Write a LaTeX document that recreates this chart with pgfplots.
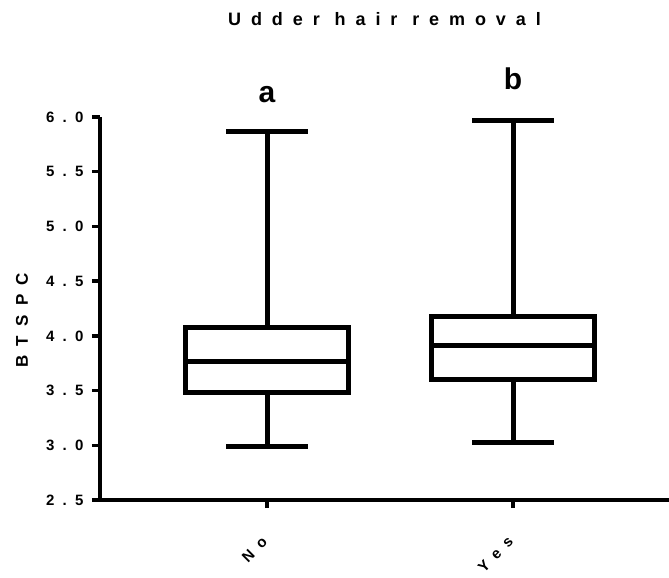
\documentclass[border=0pt]{standalone}
\usepackage{fontspec}
\setmainfont{Liberation Sans}
\newfontfamily\spaced[LetterSpace=55]{Liberation Sans}
\usepackage{pgfplots}
\pgfplotsset{compat=1.18}
\pgfplotsset{boxline/.style={black, solid, line width=5bp, line join=miter, mark=none}}

\begin{document}
\begin{tikzpicture}
\begin{axis}[
    name=ax,
    scale only axis,
    width=569bp, height=383bp,
    xmin=-0.679, xmax=1.634,
    ymin=2.5, ymax=6.0,
    clip=false,
    axis lines*=left,
    axis line style={line width=3.5bp},
    tick align=outside,
    major tick length=8bp,
    every tick/.style={black, line width=3.5bp},
    xtick={0,1},
    xticklabels={No,Yes},
    ytick={2.5,3.0,3.5,4.0,4.5,5.0,5.5,6.0},
    yticklabels={2.5,3.0,3.5,4.0,4.5,5.0,5.5,6.0},
    yticklabel style={font=\spaced\bfseries\fontsize{15bp}{17bp}\selectfont, xshift=-5bp},
    xticklabel style={font=\spaced\bfseries\fontsize{15bp}{17bp}\selectfont,
        xshift=0bp, yshift=-29bp, rotate=45, anchor=east},
    ylabel={BTSPC},
    ylabel style={font=\spaced\bfseries\fontsize{17bp}{19bp}\selectfont,
        at={(axis description cs:-0.137,0.469)}, anchor=center},
    title={Udder hair removal},
    title style={font=\spaced\bfseries\fontsize{18bp}{20bp}\selectfont,
        at={(axis description cs:0.5,1)}, anchor=base, yshift=86bp},
]
% No: min 2.99, Q1 3.48, median 3.77, Q3 4.08, max 5.87
\addplot[boxline] coordinates {(-0.333,3.48) (0.333,3.48) (0.333,4.08) (-0.333,4.08)} -- cycle;
\addplot[boxline] coordinates {(-0.333,3.77) (0.333,3.77)};
\addplot[boxline] coordinates {(0,4.08) (0,5.87)};
\addplot[boxline] coordinates {(-0.1667,5.87) (0.1667,5.87)};
\addplot[boxline] coordinates {(0,3.48) (0,2.99)};
\addplot[boxline] coordinates {(-0.1667,2.99) (0.1667,2.99)};
% Yes: min 3.03, Q1 3.60, median 3.91, Q3 4.18, max 5.97
\addplot[boxline] coordinates {(0.667,3.60) (1.333,3.60) (1.333,4.18) (0.667,4.18)} -- cycle;
\addplot[boxline] coordinates {(0.667,3.91) (1.333,3.91)};
\addplot[boxline] coordinates {(1,4.18) (1,5.97)};
\addplot[boxline] coordinates {(0.8333,5.97) (1.1667,5.97)};
\addplot[boxline] coordinates {(1,3.60) (1,3.03)};
\addplot[boxline] coordinates {(0.8333,3.03) (1.1667,3.03)};
\node[font=\bfseries\fontsize{30bp}{32bp}\selectfont, anchor=base] at (axis cs:0,6.13) {a};
\node[font=\bfseries\fontsize{30bp}{32bp}\selectfont, anchor=base] at (axis cs:1,6.25) {b};
\end{axis}
\pgfresetboundingbox
\path[use as bounding box] ([xshift=-100bp,yshift=-78bp]ax.south west)
    rectangle ([yshift=117bp]ax.north east);
\end{tikzpicture}
\end{document}
